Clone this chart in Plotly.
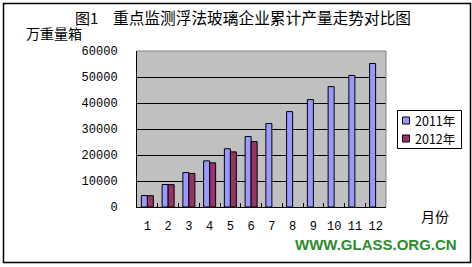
import plotly.graph_objects as go

months = ["1", "2", "3", "4", "5", "6", "7", "8", "9", "10", "11", "12"]
y2011 = [4400, 8650, 13250, 17750, 22400, 27100, 32100, 36700, 41300, 46300, 50600, 55200]
y2012 = [4350, 8600, 12900, 17000, 21200, 25200]
series_names = ["2011年", "2012年"]
series_colors = ["#9999FF", "#993366"]
y_ticks = [0, 10000, 20000, 30000, 40000, 50000, 60000]

W, H = 472, 267
L, R, T, B = 137, 386, 51, 207


def px(x):
    return (x - L) / (R - L)


def py(y):
    return (B - y) / (B - T)


fig = go.Figure()
fig.add_bar(x=months, y=y2011, name=series_names[0],
            marker=dict(color=series_colors[0], line=dict(color="#000000", width=1)))
fig.add_bar(x=months[:len(y2012)], y=y2012, name=series_names[1],
            marker=dict(color=series_colors[1], line=dict(color="#000000", width=1)))

tickfont = dict(family="Liberation Mono", size=12, color="#000000")
cjk = "Noto Sans CJK SC"

fig.update_layout(
    width=W, height=H,
    margin=dict(l=L, r=W - R, t=T, b=H - B),
    paper_bgcolor="#FFFFFF",
    plot_bgcolor="#C0C0C0",
    barmode="group",
    bargap=0.42,
    bargroupgap=0,
    showlegend=False,
    xaxis=dict(
        type="category", categoryorder="array", categoryarray=months,
        showline=True, linecolor="#000000", linewidth=1,
        ticks="inside", ticklen=4, tickcolor="#000000", tickson="boundaries",
        tickfont=tickfont, tickangle=0, showgrid=False, ticklabelstandoff=8,
        fixedrange=True,
    ),
    yaxis=dict(
        range=[0, 60000], tickvals=y_ticks, ticktext=[str(v) for v in y_ticks],
        showline=True, linecolor="#000000", linewidth=1,
        showgrid=True, gridcolor="#000000", gridwidth=1,
        zeroline=False, ticks="", tickfont=tickfont, ticklabelstandoff=16,
        fixedrange=True,
    ),
)

# top and right border of the plot area (gray)
fig.add_shape(type="line", xref="paper", yref="paper", x0=0, x1=1, y0=1, y1=1,
              line=dict(color="#808080", width=1))
fig.add_shape(type="line", xref="paper", yref="paper", x0=1, x1=1, y0=0, y1=1,
              line=dict(color="#808080", width=1))
# outer chart border
fig.add_shape(type="rect", xref="paper", yref="paper",
              x0=px(3.5), x1=px(470.5), y0=py(262.5), y1=py(3.5),
              line=dict(color="#000000", width=1.5))

# legend (drawn box, swatches and labels)
fig.add_shape(type="rect", xref="paper", yref="paper",
              x0=px(397.5), x1=px(461.5), y0=py(148.5), y1=py(110.5),
              fillcolor="#FFFFFF", line=dict(color="#000000", width=1))
for i, (name, col) in enumerate(zip(series_names, series_colors)):
    cy = 120.5 + 18 * i
    fig.add_shape(type="rect", xref="paper", yref="paper",
                  x0=px(402.5), x1=px(409.5), y0=py(cy + 3.5), y1=py(cy - 3.5),
                  fillcolor=col, line=dict(color="#000000", width=1))
    fig.add_annotation(text=name, xref="paper", yref="paper", x=px(413), y=py(cy),
                       xanchor="left", yanchor="middle", showarrow=False,
                       font=dict(family=cjk, size=12.5, color="#000000"))

fig.add_annotation(text="图1", xref="paper", yref="paper", x=px(73), y=py(17),
                   xanchor="left", yanchor="middle", showarrow=False,
                   font=dict(family=cjk, size=15, color="#000000"))
fig.add_annotation(text="重点监测浮法玻璃企业累计产量走势对比图",
                   xref="paper", yref="paper", x=px(111), y=py(17),
                   xanchor="left", yanchor="middle", showarrow=False,
                   font=dict(family=cjk, size=15.7, color="#000000"))
fig.add_annotation(text="万重量箱", xref="paper", yref="paper", x=px(24), y=py(33),
                   xanchor="left", yanchor="middle", showarrow=False,
                   font=dict(family=cjk, size=14, color="#000000"))
fig.add_annotation(text="月份", xref="paper", yref="paper", x=px(419), y=py(216),
                   xanchor="left", yanchor="middle", showarrow=False,
                   font=dict(family=cjk, size=14, color="#000000"))
fig.add_annotation(text="<b>WWW.GLASS.ORG.CN</b>", xref="paper", yref="paper",
                   x=px(459), y=py(244), xanchor="right", yanchor="middle",
                   showarrow=False,
                   font=dict(family="Liberation Sans", size=15, color="#2E8B2E"))

fig.write_html("out.html")
